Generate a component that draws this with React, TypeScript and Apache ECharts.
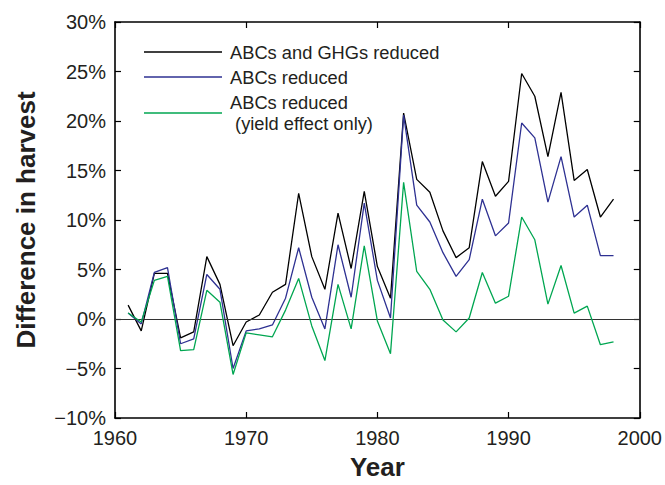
import React, { useEffect, useRef } from "react";
import * as echarts from "echarts";

const years: number[] = [
  1961, 1962, 1963, 1964, 1965, 1966, 1967, 1968, 1969, 1970,
  1971, 1972, 1973, 1974, 1975, 1976, 1977, 1978, 1979, 1980,
  1981, 1982, 1983, 1984, 1985, 1986, 1987, 1988, 1989, 1990,
  1991, 1992, 1993, 1994, 1995, 1996, 1997, 1998,
];

const abcsAndGhgs: number[] = [
  1.4, -1.2, 4.6, 4.6, -1.9, -1.3, 6.3, 3.5, -2.7, -0.3,
  0.4, 2.7, 3.5, 12.7, 6.3, 3.0, 10.7, 5.1, 12.9, 5.3,
  2.1, 20.8, 14.1, 12.8, 8.9, 6.2, 7.2, 15.9, 12.4, 13.9,
  24.8, 22.5, 16.4, 22.9, 14.0, 15.1, 10.3, 12.1,
];

const abcsOnly: number[] = [
  0.6, -0.5, 4.7, 5.2, -2.5, -2.0, 4.5, 3.0, -5.0, -1.2,
  -1.0, -0.6, 2.1, 7.2, 2.2, -1.0, 7.5, 2.2, 11.7, 3.9,
  0.1, 20.6, 11.5, 9.8, 6.7, 4.3, 6.0, 12.1, 8.4, 9.7,
  19.8, 18.3, 11.8, 16.4, 10.3, 11.5, 6.4, 6.4,
];

const yieldOnly: number[] = [
  0.6, -0.3, 3.9, 4.3, -3.2, -3.1, 2.9, 1.7, -5.6, -1.4,
  -1.6, -1.8, 0.9, 4.1, -0.7, -4.2, 3.5, -1.0, 7.4, -0.2,
  -3.5, 13.8, 4.8, 3.0, -0.1, -1.3, 0.1, 4.7, 1.6, 2.3,
  10.3, 8.0, 1.5, 5.4, 0.6, 1.3, -2.6, -2.3,
];

const seriesNames: string[] = [
  "ABCs and GHGs reduced",
  "ABCs reduced",
  "ABCs reduced\n (yield effect only)",
];

const FONT = "'Liberation Sans', Arial, Helvetica, sans-serif";
const TXT = "#231f20";

const pct = (v: number) => (v < 0 ? "\u2212" + Math.abs(v) : String(v)) + "%";

export default function App() {
  const ref = useRef<HTMLDivElement>(null);

  useEffect(() => {
    if (!ref.current) return;
    const chart = echarts.init(ref.current, undefined, { renderer: "svg" });
    const pairs = (arr: number[]) => arr.map((v, i) => [years[i], v]);
    const axisLine = { show: true, onZero: false, lineStyle: { color: "#000", width: 1.6 } };
    const tick = { show: true, inside: true, length: 6, lineStyle: { color: "#000", width: 1.2 } };

    chart.setOption({
      animation: false,
      backgroundColor: "#fff",
      textStyle: { fontFamily: FONT },
      grid: { left: 115, right: 24, top: 22, bottom: 62, containLabel: false },
      legend: {
        orient: "vertical",
        left: 144,
        top: 41,
        padding: 0,
        itemGap: 3,
        itemWidth: 78,
        itemHeight: 1.3,
        icon: "rect",
        textStyle: {
          fontFamily: FONT,
          fontSize: 18.3,
          color: TXT,
          lineHeight: 22,
          padding: [0, 0, 0, 3],
        },
        data: seriesNames,
      },
      xAxis: [
        {
          type: "value",
          min: 1960,
          max: 2000,
          interval: 10,
          name: "Year",
          nameLocation: "middle",
          nameGap: 36,
          nameTextStyle: { fontFamily: FONT, fontSize: 26, fontWeight: "bold", color: TXT },
          axisLine,
          axisTick: tick,
          splitLine: { show: false },
          axisLabel: { fontFamily: FONT, fontSize: 20, color: TXT, margin: 10, formatter: (v: number) => String(v) },
        },
        {
          type: "value",
          position: "top",
          min: 1960,
          max: 2000,
          interval: 10,
          axisLine,
          axisTick: tick,
          splitLine: { show: false },
          axisLabel: { show: false },
        },
      ],
      yAxis: [
        {
          type: "value",
          min: -10,
          max: 30,
          interval: 5,
          name: "Difference in harvest",
          nameLocation: "middle",
          nameGap: 76,
          nameRotate: 90,
          nameTextStyle: { fontFamily: FONT, fontSize: 26, fontWeight: "bold", color: TXT },
          axisLine,
          axisTick: tick,
          splitLine: { show: false },
          axisLabel: { fontFamily: FONT, fontSize: 20, color: TXT, margin: 9, formatter: pct },
        },
        {
          type: "value",
          position: "right",
          min: -10,
          max: 30,
          interval: 5,
          axisLine,
          axisTick: tick,
          splitLine: { show: false },
          axisLabel: { show: false },
        },
      ],
      series: [
        {
          name: seriesNames[0],
          type: "line",
          data: pairs(abcsAndGhgs),
          showSymbol: false,
          color: "#000000",
          lineStyle: { width: 1.3, color: "#000000" },
          markLine: {
            silent: true,
            symbol: "none",
            label: { show: false },
            lineStyle: { color: "#333", width: 1.2, type: "solid" },
            data: [{ yAxis: 0 }],
          },
          z: 3,
        },
        {
          name: seriesNames[1],
          type: "line",
          data: pairs(abcsOnly),
          showSymbol: false,
          color: "#2e3192",
          lineStyle: { width: 1.3, color: "#2e3192" },
          z: 4,
        },
        {
          name: seriesNames[2],
          type: "line",
          data: pairs(yieldOnly),
          showSymbol: false,
          color: "#00a651",
          lineStyle: { width: 1.3, color: "#00a651" },
          z: 5,
        },
      ],
    });
    return () => chart.dispose();
  }, []);

  return <div ref={ref} style={{ width: 665, height: 485, position: "absolute", left: 0, top: 0 }} />;
}
